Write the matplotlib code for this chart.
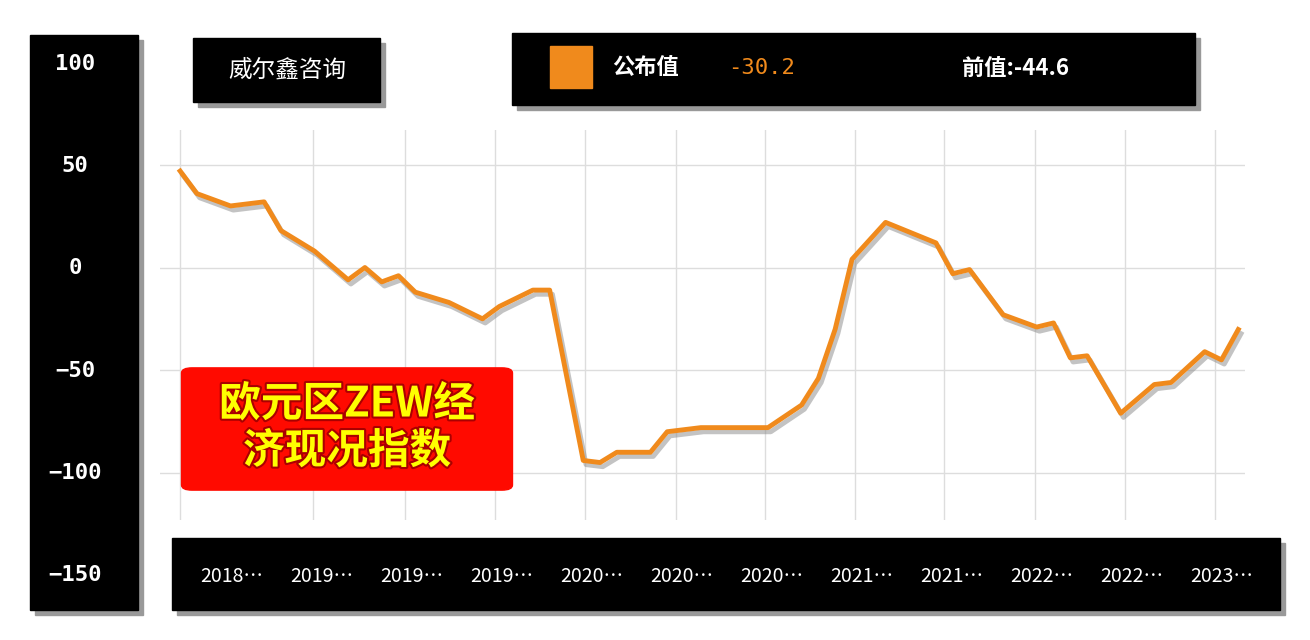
import matplotlib
matplotlib.use('Agg')
import matplotlib.pyplot as plt
import matplotlib.patheffects as pe
from matplotlib.patches import Rectangle, FancyBboxPatch

plt.rcParams['font.family'] = ['Noto Sans CJK SC', 'DejaVu Sans']

# 月份序号与指数值
months = [0, 1, 3, 5, 6, 8, 10, 11, 12, 13, 14, 16, 18, 19, 21, 22, 24, 25, 26, 28,
          29, 31, 33, 35, 37, 38, 39, 40, 42, 45, 46, 47, 49, 51, 52, 53, 54, 56, 58,
          59, 61, 62, 63]
values = [47, 36, 30, 32, 18, 8, -6, 0, -7, -4, -12, -17, -25, -19, -11, -11, -94, -95,
          -90, -90, -80, -78, -78, -78, -67, -54, -30, 4, 22, 12, -3, -1, -23, -29, -27,
          -44, -43, -71, -57, -56, -41, -45, -30.2]
x_labels = ['2018…', '2019…', '2019…', '2019…', '2020…', '2020…', '2020…', '2021…',
            '2021…', '2022…', '2022…', '2023…']
vgrid = [0, 7.9, 13.4, 18.75, 24.1, 29.5, 34.8, 40.2, 45.5, 50.9, 56.25, 61.6]
y_ticks = [100, 50, 0, -50, -100, -150]

W, H = 1310, 640
fig = plt.figure(figsize=(13.1, 6.4), dpi=100)
fig.patch.set_facecolor('white')


def box(x0, y0, x1, y1):
    # 像素坐标 -> figure 坐标，带阴影的黑框
    fig.patches.append(Rectangle((x0 / W + 0.004, 1 - y1 / H - 0.008), (x1 - x0) / W, (y1 - y0) / H,
                                 transform=fig.transFigure, color='#999999', zorder=0))
    fig.patches.append(Rectangle((x0 / W, 1 - y1 / H), (x1 - x0) / W, (y1 - y0) / H,
                                 transform=fig.transFigure, color='black', zorder=1))


ax = fig.add_axes([160 / W, 1 - 520 / H, (1245 - 160) / W, (520 - 130) / H])
ax.set_xlim(-1.2, 63.4)
ax.set_ylim(-123, 67)
for s in ax.spines.values():
    s.set_visible(False)
ax.set_xticks([])
ax.set_yticks([])
for g in vgrid:
    ax.axvline(g, color='#dddddd', lw=1, zorder=0)
for t in [50, 0, -50, -100]:
    ax.axhline(t, color='#dddddd', lw=1, zorder=0)
ax.plot(months, values, color='#f08a1c', lw=3.5, solid_joinstyle='round',
        path_effects=[pe.SimpleLineShadow(offset=(2, -3), shadow_color='#888888', alpha=0.5),
                      pe.Normal()])

# 左侧黑色纵轴条
box(30, 35, 138, 610)
for i, t in enumerate(y_ticks):
    fig.text(75 / W, 1 - (64 + i * 102.2) / H, str(t).replace('-', '−'), color='white',
             fontsize=16, fontweight='bold', ha='center', va='center', family='DejaVu Sans Mono')

# 底部黑色横轴条
box(172, 538, 1280, 610)
for i, lab in enumerate(x_labels):
    xp = 232 + i * 90
    fig.text(xp / W, 1 - 576 / H, lab, color='white', fontsize=14, ha='center', va='center')

# 标题框
box(193, 38, 380, 102)
fig.text(287 / W, 1 - 70 / H, '威尔鑫咨询', color='white', fontsize=17, ha='center', va='center')

# 图例框
box(512, 33, 1195, 105)
fig.patches.append(Rectangle((550 / W, 1 - 88 / H), 42 / W, 42 / H, transform=fig.transFigure,
                             color='#f08a1c', zorder=2))
fig.text(612 / W, 1 - 68 / H, '公布值', color='white', fontsize=16, fontweight='bold', va='center')
fig.text(728 / W, 1 - 68 / H, '-30.2', color='#f08a1c', fontsize=16, va='center',
         family='DejaVu Sans Mono')
fig.text(962 / W, 1 - 68 / H, '前值:-44.6', color='white', fontsize=16, fontweight='bold', va='center')

# 红底黄字标签
fig.patches.append(FancyBboxPatch((192 / W, 1 - 485 / H), 310 / W, 112 / H,
                                  boxstyle='round,pad=0.008', transform=fig.transFigure,
                                  color='#ff0a00', zorder=3))
fig.text(347 / W, 1 - 428 / H, '欧元区ZEW经\n济现况指数', color='#ffff00', fontsize=30,
         fontweight='bold', ha='center', va='center', linespacing=1.15, zorder=4,
         path_effects=[pe.withStroke(linewidth=3, foreground='#aa0000')])

fig.savefig('out.png', dpi=100)
